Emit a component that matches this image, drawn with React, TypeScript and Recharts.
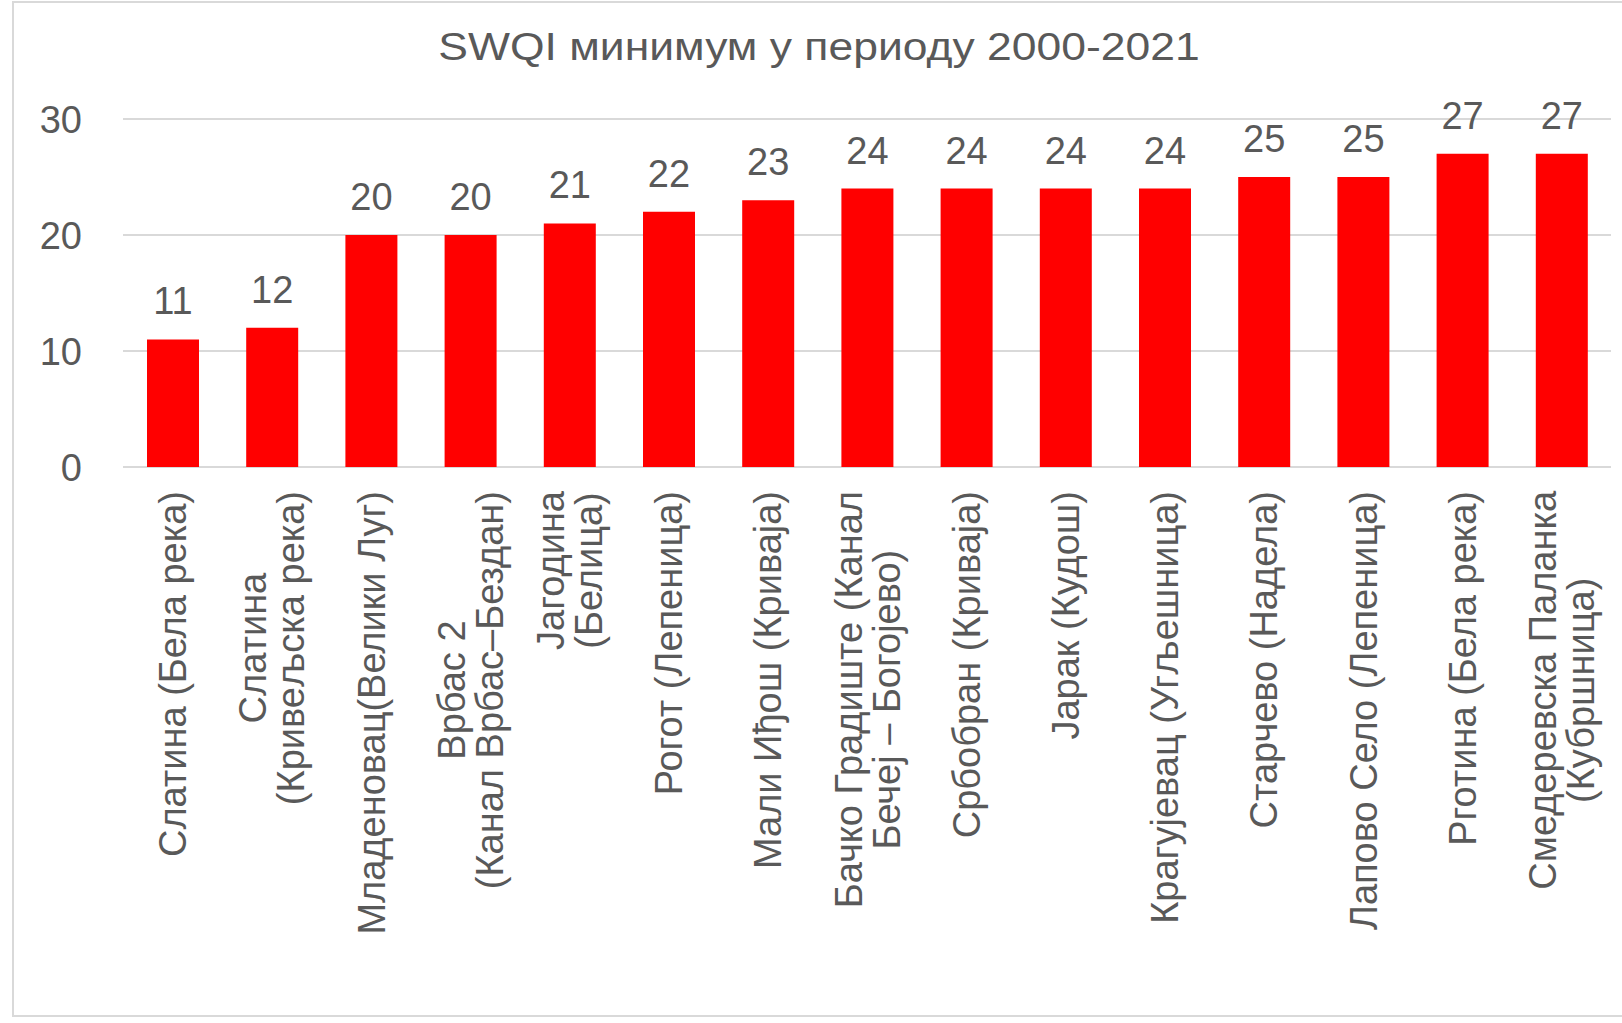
import React from "react"
import { BarChart, Bar, XAxis, YAxis, CartesianGrid, LabelList } from "recharts"

// SWQI minimum 2000-2021, per station
const stations = [
  "Слатина (Бела река)",
  "Слатина\n(Кривељска река)",
  "Младеновац(Велики Луг)",
  "Врбас 2\n(Канал Врбас–Бездан)",
  "Јагодина\n(Белица)",
  "Рогот (Лепеница)",
  "Мали Иђош (Криваја)",
  "Бачко Градиште (Канал\nБечеј – Богојево)",
  "Србобран (Криваја)",
  "Јарак (Кудош)",
  "Крагујевац (Угљешница)",
  "Старчево (Надела)",
  "Лапово Село (Лепеница)",
  "Рготина (Бела река)",
  "Смедеревска Паланка\n(Кубршница)",
]
const swqiMin = [11, 12, 20, 20, 21, 22, 23, 24, 24, 24, 24, 25, 25, 27, 27]
const yTicks = [0, 10, 20, 30]

const data = stations.map((name, i) => ({ name, value: swqiMin[i] }))

const FONT = '"Liberation Sans", Arial, sans-serif'
const TEXT = "#595959"
const GRID = "#d9d9d9"
const FS = 38

let ctx: CanvasRenderingContext2D | null = null
function textWidth(s: string) {
  if (!ctx) ctx = document.createElement("canvas").getContext("2d")
  if (!ctx) return s.length * FS * 0.55
  ctx.font = `${FS}px ${FONT}`
  return ctx.measureText(s).width
}

function StationTick(props: any) {
  const { x, payload } = props
  const lines = String(payload.value).split("\n")
  const maxW = Math.max(...lines.map(textWidth))
  const top = 491
  const pitch = 38
  return (
    <g transform={`translate(${x},${top}) rotate(-90)`}>
      {lines.map((ln, i) => (
        <text
          key={i}
          x={-maxW / 2}
          y={(i - (lines.length - 1) / 2) * pitch}
          dy="0.36em"
          textAnchor="middle"
          fill={TEXT}
          fontSize={FS}
          fontFamily={FONT}
        >
          {ln}
        </text>
      ))}
    </g>
  )
}

function ValueTick(props: any) {
  const { y, payload } = props
  return (
    <text x={82} y={y} dy="0.36em" textAnchor="end" fill={TEXT} fontSize={FS} fontFamily={FONT}>
      {payload.value}
    </text>
  )
}

function TopLabel(props: any) {
  const { x, y, width, value } = props
  return (
    <text x={x + width / 2} y={y - 25} textAnchor="middle" fill={TEXT} fontSize={FS} fontFamily={FONT}>
      {value}
    </text>
  )
}

export default function App() {
  return (
    <div style={{ position: "absolute", left: 0, top: 0, width: 1622, height: 1023, background: "#fff", overflow: "hidden" }}>
      <div
        style={{
          position: "absolute",
          left: 12,
          top: 1,
          width: 1640,
          height: 1012,
          border: `2px solid ${GRID}`,
        }}
      />
      <div
        style={{
          position: "absolute",
          left: 0,
          top: 28,
          width: 1638,
          textAlign: "center",
          fontFamily: FONT,
          fontSize: 38,
          lineHeight: "38px",
          color: TEXT,
          transform: "scaleX(1.17)",
          transformOrigin: "819px 0",
        }}
      >
        SWQI минимум у периоду 2000-2021
      </div>
      <div style={{ position: "absolute", left: 0, top: 0 }}>
        <BarChart
          width={1622}
          height={1023}
          data={data}
          margin={{ top: 119, right: 11, left: 0, bottom: 0 }}
        >
          <CartesianGrid vertical={false} stroke={GRID} strokeWidth={2} />
          <XAxis
            dataKey="name"
            height={556}
            axisLine={false}
            tickLine={false}
            interval={0}
            tick={<StationTick />}
          />
          <YAxis
            width={123}
            domain={[0, 30]}
            ticks={yTicks}
            axisLine={false}
            tickLine={false}
            tickSize={0}
            tick={<ValueTick />}
          />
          <Bar dataKey="value" fill="#ff0000" barSize={52} isAnimationActive={false}>
            <LabelList dataKey="value" content={<TopLabel />} />
          </Bar>
        </BarChart>
      </div>
    </div>
  )
}
